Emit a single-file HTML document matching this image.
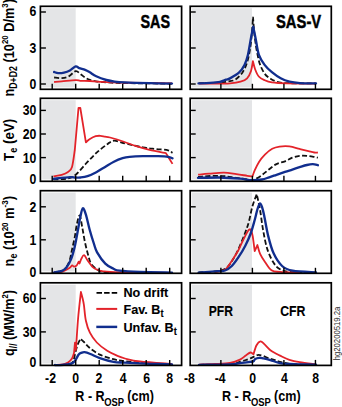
<!DOCTYPE html>
<html><head><meta charset="utf-8"><style>
html,body{margin:0;padding:0;background:#fff;width:342px;height:407px;overflow:hidden}
svg{display:block}
text{font-family:"Liberation Sans",sans-serif;font-weight:bold;fill:#000}
.big{font-size:18px;stroke:#000;stroke-width:0.45px}
.mid{font-size:15px;stroke:#000;stroke-width:0.12px}
.leg{font-size:13.4px;stroke:#000;stroke-width:0.12px}
.tick{font-size:14.6px}
.ttl{font-size:15px}
.yl{font-size:14.5px}
.hg{font-size:9px;font-weight:normal;fill:#2a2a2a}
</style></head><body>
<svg width="342" height="407" viewBox="0 0 342 407">
<rect x="42.30" y="8.20" width="33.40" height="79.20" fill="#e4e5e7"/>
<rect x="192.10" y="8.20" width="59.90" height="79.20" fill="#e4e5e7"/>
<rect x="42.30" y="100.20" width="33.40" height="79.20" fill="#e4e5e7"/>
<rect x="192.10" y="100.20" width="59.90" height="79.20" fill="#e4e5e7"/>
<rect x="42.30" y="192.60" width="33.40" height="78.80" fill="#e4e5e7"/>
<rect x="192.10" y="192.60" width="59.90" height="78.80" fill="#e4e5e7"/>
<rect x="42.30" y="284.70" width="33.40" height="78.80" fill="#e4e5e7"/>
<rect x="192.10" y="284.70" width="59.90" height="78.80" fill="#e4e5e7"/>
<path d="M54.10,77.50 C55.37,77.60 59.27,78.28 61.70,78.10 C64.13,77.92 66.37,77.57 68.70,76.40 C71.03,75.23 73.75,71.50 75.70,71.10 C77.65,70.70 78.83,72.93 80.40,74.00 C81.97,75.07 83.53,76.52 85.10,77.50 C86.67,78.48 87.98,79.25 89.80,79.90 C91.62,80.55 93.23,81.00 96.00,81.40 C98.77,81.80 102.40,82.03 106.40,82.30 C110.40,82.57 112.73,82.82 120.00,83.00 C127.27,83.18 141.33,83.30 150.00,83.40 C158.67,83.50 168.33,83.57 172.00,83.60" fill="none" stroke="#111" stroke-width="1.80" stroke-dasharray="5,2.4"/>
<path d="M54.10,82.00 C55.37,81.90 58.10,81.72 61.70,81.40 C65.30,81.08 72.58,80.20 75.70,80.10 C78.82,80.00 78.05,80.65 80.40,80.80 C82.75,80.95 86.53,80.83 89.80,81.00 C93.07,81.17 94.97,81.53 100.00,81.80 C105.03,82.07 108.00,82.33 120.00,82.60 C132.00,82.87 163.33,83.27 172.00,83.40" fill="none" stroke="#e3232a" stroke-width="1.80" stroke-linejoin="round"/>
<path d="M54.10,72.00 C54.78,72.18 56.55,73.00 58.20,73.10 C59.85,73.20 62.05,73.03 64.00,72.60 C65.95,72.17 67.95,71.53 69.90,70.50 C71.85,69.47 74.15,66.78 75.70,66.40 C77.25,66.02 77.63,67.62 79.20,68.20 C80.77,68.78 83.33,69.22 85.10,69.90 C86.87,70.58 87.95,71.23 89.80,72.30 C91.65,73.37 93.43,75.02 96.20,76.30 C98.97,77.58 103.33,79.12 106.40,80.00 C109.47,80.88 111.52,81.20 114.60,81.60 C117.68,82.00 119.00,82.13 124.90,82.40 C130.80,82.67 142.15,83.00 150.00,83.20 C157.85,83.40 168.33,83.53 172.00,83.60" fill="none" stroke="#112e8e" stroke-width="2.35" stroke-linejoin="round" stroke-linecap="round"/>
<path d="M199.00,83.20 C202.50,83.10 215.17,82.88 220.00,82.60 C224.83,82.32 225.45,82.00 228.00,81.50 C230.55,81.00 232.88,81.12 235.30,79.60 C237.72,78.08 240.53,75.25 242.50,72.40 C244.47,69.55 245.82,66.57 247.10,62.50 C248.38,58.43 249.38,53.08 250.20,48.00 C251.02,42.92 251.53,37.20 252.00,32.00 C252.47,26.80 252.83,19.33 253.00,16.80 C253.20,19.33 253.70,27.13 254.20,32.00 C254.70,36.87 255.37,41.87 256.00,46.00 C256.63,50.13 257.30,53.65 258.00,56.80 C258.70,59.95 259.10,62.10 260.20,64.90 C261.30,67.70 262.88,71.30 264.60,73.60 C266.32,75.90 268.07,77.23 270.50,78.70 C272.93,80.17 275.95,81.65 279.20,82.40 C282.45,83.15 283.87,83.03 290.00,83.20 C296.13,83.37 311.67,83.37 316.00,83.40" fill="none" stroke="#111" stroke-width="1.80" stroke-dasharray="5,2.4"/>
<path d="M199.00,83.60 C202.50,83.60 214.83,83.63 220.00,83.60 C225.17,83.57 226.58,83.73 230.00,83.40 C233.42,83.07 237.65,82.45 240.50,81.60 C243.35,80.75 245.35,80.07 247.10,78.30 C248.85,76.53 250.03,73.85 251.00,71.00 C251.97,68.15 252.58,62.83 252.90,61.20 C253.27,62.53 254.12,66.65 255.10,69.20 C256.08,71.75 257.22,74.67 258.80,76.50 C260.38,78.33 262.42,79.22 264.60,80.20 C266.78,81.18 268.25,81.87 271.90,82.40 C275.55,82.93 279.15,83.20 286.50,83.40 C293.85,83.60 311.08,83.57 316.00,83.60" fill="none" stroke="#e3232a" stroke-width="1.80" stroke-linejoin="round"/>
<path d="M198.50,83.40 C200.42,83.32 206.42,83.17 210.00,82.90 C213.58,82.63 217.33,82.33 220.00,81.80 C222.67,81.27 224.33,80.27 226.00,79.70 C227.67,79.13 227.80,79.62 230.00,78.40 C232.20,77.18 236.78,74.63 239.20,72.40 C241.62,70.17 243.05,67.90 244.50,65.00 C245.95,62.10 246.83,59.43 247.90,55.00 C248.97,50.57 250.02,43.10 250.90,38.40 C251.78,33.70 252.82,28.73 253.20,26.80 C253.60,28.73 254.67,33.77 255.60,38.40 C256.53,43.03 257.30,50.18 258.80,54.60 C260.30,59.02 262.42,61.97 264.60,64.90 C266.78,67.83 269.22,69.97 271.90,72.20 C274.58,74.43 277.77,76.72 280.70,78.30 C283.63,79.88 286.28,80.90 289.50,81.70 C292.72,82.50 295.58,82.82 300.00,83.10 C304.42,83.38 313.33,83.35 316.00,83.40" fill="none" stroke="#112e8e" stroke-width="2.35" stroke-linejoin="round" stroke-linecap="round"/>
<path d="M53.40,179.40 C55.83,179.23 64.18,179.27 68.00,178.40 C71.82,177.53 73.17,176.82 76.30,174.20 C79.43,171.58 83.32,166.37 86.80,162.70 C90.28,159.03 93.72,155.33 97.20,152.20 C100.68,149.07 104.90,145.82 107.70,143.90 C110.50,141.98 111.42,140.85 114.00,140.70 C116.58,140.55 118.38,141.88 123.20,143.00 C128.02,144.12 137.43,146.40 142.90,147.40 C148.37,148.40 151.80,148.52 156.00,149.00 C160.20,149.48 165.35,149.65 168.10,150.30 C170.85,150.95 171.77,152.47 172.50,152.90" fill="none" stroke="#111" stroke-width="1.80" stroke-dasharray="5,2.4"/>
<path d="M53.40,176.30 C54.78,176.05 59.27,175.52 61.70,174.80 C64.13,174.08 66.28,173.30 68.00,172.00 C69.72,170.70 70.87,170.67 72.00,167.00 C73.13,163.33 74.33,152.83 74.80,150.00 C75.42,143.00 77.88,115.00 78.50,108.00 C78.80,108.00 80.00,108.00 80.30,108.00 C81.23,113.72 84.97,136.58 85.90,142.30 C86.50,141.80 87.87,140.32 89.50,139.30 C91.13,138.28 93.85,136.78 95.70,136.20 C97.55,135.62 99.05,135.73 100.60,135.80 C102.15,135.87 103.43,136.32 105.00,136.60 C106.57,136.88 106.97,136.68 110.00,137.50 C113.03,138.32 118.82,140.05 123.20,141.50 C127.58,142.95 131.92,144.80 136.30,146.20 C140.68,147.60 144.57,148.75 149.50,149.90 C154.43,151.05 163.17,152.57 165.90,153.10 C167.00,154.90 171.40,162.10 172.50,163.90" fill="none" stroke="#e3232a" stroke-width="1.80" stroke-linejoin="round"/>
<path d="M53.40,178.80 C56.17,178.53 66.35,177.42 70.00,177.20 C73.65,176.98 73.55,177.45 75.30,177.50 C77.05,177.55 78.47,177.72 80.50,177.50 C82.53,177.28 84.87,177.08 87.50,176.20 C90.13,175.32 93.37,173.75 96.30,172.20 C99.23,170.65 102.17,168.65 105.10,166.90 C108.03,165.15 110.98,163.15 113.90,161.70 C116.82,160.25 119.98,159.00 122.60,158.20 C125.22,157.40 126.22,157.23 129.60,156.90 C132.98,156.57 138.13,156.32 142.90,156.20 C147.67,156.08 154.00,156.10 158.20,156.20 C162.40,156.30 165.72,156.43 168.10,156.80 C170.48,157.17 171.77,158.13 172.50,158.40" fill="none" stroke="#112e8e" stroke-width="2.35" stroke-linejoin="round" stroke-linecap="round"/>
<path d="M198.00,176.80 C201.60,176.63 213.20,175.62 219.60,175.80 C226.00,175.98 231.13,177.20 236.40,177.90 C241.67,178.60 248.17,179.73 251.20,180.00 C254.23,180.27 252.82,180.32 254.60,179.50 C256.38,178.68 259.47,176.82 261.90,175.10 C264.33,173.38 266.77,171.03 269.20,169.20 C271.63,167.37 273.87,165.42 276.50,164.10 C279.13,162.78 282.37,162.37 285.00,161.30 C287.63,160.23 289.87,158.60 292.30,157.70 C294.73,156.80 297.17,156.20 299.60,155.90 C302.03,155.60 304.47,155.73 306.90,155.90 C309.33,156.07 312.37,156.60 314.20,156.90 C316.03,157.20 317.28,157.57 317.90,157.70" fill="none" stroke="#111" stroke-width="1.80" stroke-dasharray="5,2.4"/>
<path d="M198.10,174.70 C199.92,174.53 204.72,174.05 209.00,173.70 C213.28,173.35 219.23,172.53 223.80,172.60 C228.37,172.67 232.48,173.57 236.40,174.10 C240.32,174.63 244.63,175.40 247.30,175.80 C249.97,176.20 251.55,176.38 252.40,176.50 C252.77,175.53 253.50,173.13 254.60,170.70 C255.70,168.27 257.28,164.58 259.00,161.90 C260.72,159.22 262.70,156.78 264.90,154.60 C267.10,152.42 269.77,150.13 272.20,148.80 C274.63,147.47 276.63,147.00 279.50,146.60 C282.37,146.20 286.05,146.02 289.40,146.40 C292.75,146.78 296.43,148.12 299.60,148.90 C302.77,149.68 305.97,150.50 308.40,151.10 C310.83,151.70 312.62,152.27 314.20,152.50 C315.78,152.73 317.28,152.50 317.90,152.50" fill="none" stroke="#e3232a" stroke-width="1.80" stroke-linejoin="round"/>
<path d="M198.00,177.90 C201.60,177.83 212.60,177.37 219.60,177.50 C226.60,177.63 234.65,178.25 240.00,178.70 C245.35,179.15 248.05,180.07 251.70,180.20 C255.35,180.33 258.98,179.98 261.90,179.50 C264.82,179.02 266.77,178.08 269.20,177.30 C271.63,176.52 273.87,175.70 276.50,174.80 C279.13,173.90 282.37,172.77 285.00,171.90 C287.63,171.03 289.87,170.38 292.30,169.60 C294.73,168.82 297.17,167.97 299.60,167.20 C302.03,166.43 304.70,165.50 306.90,165.00 C309.10,164.50 310.97,164.17 312.80,164.20 C314.63,164.23 317.05,165.03 317.90,165.20" fill="none" stroke="#112e8e" stroke-width="2.35" stroke-linejoin="round" stroke-linecap="round"/>
<path d="M54.10,272.40 C55.42,272.17 60.10,271.65 62.00,271.00 C63.90,270.35 64.25,270.20 65.50,268.50 C66.75,266.80 68.42,263.93 69.50,260.80 C70.58,257.67 71.12,253.70 72.00,249.70 C72.88,245.70 73.98,241.08 74.80,236.80 C75.62,232.52 76.08,227.55 76.90,224.00 C77.72,220.45 78.80,214.90 79.70,215.50 C80.60,216.10 81.42,223.12 82.30,227.60 C83.18,232.08 83.93,237.48 85.00,242.40 C86.07,247.32 87.62,253.42 88.70,257.10 C89.78,260.78 90.10,262.43 91.50,264.50 C92.90,266.57 95.48,268.33 97.10,269.50 C98.72,270.67 99.05,271.02 101.20,271.50 C103.35,271.98 108.53,272.25 110.00,272.40" fill="none" stroke="#111" stroke-width="1.80" stroke-dasharray="5,2.4"/>
<path d="M54.10,272.40 C55.42,272.30 59.45,272.52 62.00,271.80 C64.55,271.08 67.72,269.17 69.40,268.10 C71.08,267.03 71.33,265.63 72.10,265.40 C72.87,265.17 73.23,266.70 74.00,266.70 C74.77,266.70 75.93,266.23 76.70,265.40 C77.47,264.57 78.13,262.02 78.60,261.70 C79.07,261.38 79.05,263.97 79.50,263.50 C79.95,263.03 80.53,260.28 81.30,258.90 C82.07,257.52 83.02,254.88 84.10,255.20 C85.18,255.52 86.48,258.95 87.80,260.80 C89.12,262.65 90.80,264.98 92.00,266.30 C93.20,267.62 93.13,267.87 95.00,268.70 C96.87,269.53 99.10,270.68 103.20,271.30 C107.30,271.92 108.13,272.15 119.60,272.40 C131.07,272.65 163.27,272.73 172.00,272.80" fill="none" stroke="#e3232a" stroke-width="1.80" stroke-linejoin="round"/>
<path d="M54.10,272.40 C55.42,272.15 59.92,271.77 62.00,270.90 C64.08,270.03 65.07,269.20 66.60,267.20 C68.13,265.20 69.82,262.43 71.20,258.90 C72.58,255.37 73.82,250.60 74.90,246.00 C75.98,241.40 76.78,236.20 77.70,231.30 C78.62,226.40 79.55,220.43 80.40,216.60 C81.25,212.77 81.88,208.62 82.80,208.30 C83.72,207.98 84.77,211.17 85.90,214.70 C87.03,218.23 88.25,224.62 89.60,229.50 C90.95,234.38 92.75,240.20 94.00,244.00 C95.25,247.80 95.22,249.03 97.10,252.30 C98.98,255.57 102.58,260.87 105.30,263.60 C108.02,266.33 111.02,267.52 113.40,268.70 C115.78,269.88 115.17,270.15 119.60,270.70 C124.03,271.25 131.27,271.68 140.00,272.00 C148.73,272.32 166.67,272.50 172.00,272.60" fill="none" stroke="#112e8e" stroke-width="2.35" stroke-linejoin="round" stroke-linecap="round"/>
<path d="M198.60,272.40 C201.33,272.25 210.60,272.07 215.00,271.50 C219.40,270.93 222.33,270.50 225.00,269.00 C227.67,267.50 228.87,265.58 231.00,262.50 C233.13,259.42 235.53,255.22 237.80,250.50 C240.07,245.78 242.77,238.95 244.60,234.20 C246.43,229.45 247.52,226.57 248.80,222.00 C250.08,217.43 250.98,211.45 252.30,206.80 C253.62,202.15 255.97,196.22 256.70,194.10 C257.23,196.57 258.83,202.90 259.90,208.90 C260.97,214.90 261.87,223.40 263.10,230.10 C264.33,236.80 265.55,243.65 267.30,249.10 C269.05,254.55 271.48,259.45 273.60,262.80 C275.72,266.15 277.27,267.70 280.00,269.20 C282.73,270.70 284.00,271.23 290.00,271.80 C296.00,272.37 311.67,272.47 316.00,272.60" fill="none" stroke="#111" stroke-width="1.80" stroke-dasharray="5,2.4"/>
<path d="M215.00,272.00 C215.83,271.88 218.17,271.83 220.00,271.30 C221.83,270.77 223.92,270.72 226.00,268.80 C228.08,266.88 230.53,262.72 232.50,259.80 C234.47,256.88 236.38,253.83 237.80,251.30 C239.22,248.77 239.80,247.10 241.00,244.60 C242.20,242.10 243.78,238.63 245.00,236.30 C246.22,233.97 247.47,231.78 248.30,230.60 C249.13,229.42 249.72,229.43 250.00,229.20 C250.20,229.42 251.00,230.28 251.20,230.50 C251.45,231.45 252.12,232.77 252.70,236.20 C253.28,239.63 254.37,248.62 254.70,251.10 C255.15,250.08 256.95,246.02 257.40,245.00 C257.85,246.47 258.83,250.98 260.10,253.80 C261.37,256.62 263.10,259.17 265.00,261.90 C266.90,264.63 269.00,268.53 271.50,270.20 C274.00,271.87 275.25,271.52 280.00,271.90 C284.75,272.28 296.67,272.40 300.00,272.50" fill="none" stroke="#e3232a" stroke-width="1.80" stroke-linejoin="round"/>
<path d="M198.60,272.60 C201.90,272.37 214.00,271.55 218.40,271.20 C222.80,270.85 222.77,271.37 225.00,270.50 C227.23,269.63 229.55,268.22 231.80,266.00 C234.05,263.78 236.25,260.58 238.50,257.20 C240.75,253.82 243.27,249.65 245.30,245.70 C247.33,241.75 249.13,237.78 250.70,233.50 C252.27,229.22 253.57,224.08 254.70,220.00 C255.83,215.92 256.63,211.73 257.50,209.00 C258.37,206.27 259.15,203.93 259.90,203.60 C260.65,203.27 261.30,205.05 262.00,207.00 C262.70,208.95 263.05,210.40 264.10,215.30 C265.15,220.20 266.72,230.07 268.30,236.40 C269.88,242.73 271.30,248.37 273.60,253.30 C275.90,258.23 278.92,263.10 282.10,266.00 C285.28,268.90 287.05,269.63 292.70,270.70 C298.35,271.77 312.12,272.12 316.00,272.40" fill="none" stroke="#112e8e" stroke-width="2.35" stroke-linejoin="round" stroke-linecap="round"/>
<path d="M55.00,364.90 C57.50,364.83 66.92,365.32 70.00,364.50 C73.08,363.68 72.63,361.85 73.50,360.00 C74.37,358.15 74.53,355.90 75.20,353.40 C75.87,350.90 76.62,347.43 77.50,345.00 C78.38,342.57 80.00,339.83 80.50,338.80 C81.08,339.33 82.55,340.55 84.00,342.00 C85.45,343.45 86.57,345.40 89.20,347.50 C91.83,349.60 95.75,352.65 99.80,354.60 C103.85,356.55 109.30,358.08 113.50,359.20 C117.70,360.32 118.92,360.62 125.00,361.30 C131.08,361.98 142.17,362.80 150.00,363.30 C157.83,363.80 168.33,364.13 172.00,364.30" fill="none" stroke="#111" stroke-width="1.80" stroke-dasharray="5,2.4"/>
<path d="M55.00,364.90 C56.33,364.82 60.83,364.80 63.00,364.40 C65.17,364.00 66.50,363.47 68.00,362.50 C69.50,361.53 71.00,360.18 72.00,358.60 C73.00,357.02 73.67,353.93 74.00,353.00 C74.17,351.28 74.83,344.42 75.00,342.70 C75.15,343.92 75.75,348.78 75.90,350.00 C76.07,347.45 76.73,337.25 76.90,334.70 C77.15,331.42 77.73,322.12 78.40,315.00 C79.07,307.88 80.48,295.83 80.90,292.00 C81.17,293.00 82.00,295.85 82.50,298.00 C83.00,300.15 83.33,301.10 83.90,304.90 C84.47,308.70 84.90,316.17 85.90,320.80 C86.90,325.43 88.08,329.08 89.90,332.70 C91.72,336.32 93.92,339.48 96.80,342.50 C99.68,345.52 103.72,348.55 107.20,350.80 C110.68,353.05 114.73,354.72 117.70,356.00 C120.67,357.28 121.28,357.58 125.00,358.50 C128.72,359.42 132.17,360.58 140.00,361.50 C147.83,362.42 166.67,363.58 172.00,364.00" fill="none" stroke="#e3232a" stroke-width="1.80" stroke-linejoin="round"/>
<path d="M55.00,365.00 C55.83,365.02 57.22,365.38 60.00,365.10 C62.78,364.82 69.17,364.08 71.70,363.30 C74.23,362.52 74.03,361.85 75.20,360.40 C76.37,358.95 77.65,355.87 78.70,354.60 C79.75,353.33 80.52,353.20 81.50,352.80 C82.48,352.40 83.12,352.00 84.60,352.20 C86.08,352.40 87.87,353.02 90.40,354.00 C92.93,354.98 95.95,356.78 99.80,358.10 C103.65,359.42 109.30,361.13 113.50,361.90 C117.70,362.67 118.92,362.38 125.00,362.70 C131.08,363.02 142.17,363.52 150.00,363.80 C157.83,364.08 168.33,364.30 172.00,364.40" fill="none" stroke="#112e8e" stroke-width="2.35" stroke-linejoin="round" stroke-linecap="round"/>
<path d="M199.00,364.80 C204.17,364.72 223.17,364.78 230.00,364.30 C236.83,363.82 237.17,362.68 240.00,361.90 C242.83,361.12 245.05,360.28 247.00,359.60 C248.95,358.92 250.33,358.38 251.70,357.80 C253.07,357.22 254.03,356.58 255.20,356.10 C256.37,355.62 257.33,354.90 258.70,354.90 C260.07,354.90 261.65,355.52 263.40,356.10 C265.15,356.68 267.25,357.73 269.20,358.40 C271.15,359.07 273.30,359.52 275.10,360.10 C276.90,360.68 277.52,361.28 280.00,361.90 C282.48,362.52 286.67,363.37 290.00,363.80 C293.33,364.23 295.67,364.33 300.00,364.50 C304.33,364.67 313.33,364.75 316.00,364.80" fill="none" stroke="#111" stroke-width="1.80" stroke-dasharray="5,2.4"/>
<path d="M199.00,364.60 C201.67,364.50 209.83,364.28 215.00,364.00 C220.17,363.72 225.83,363.63 230.00,362.90 C234.17,362.17 237.37,360.83 240.00,359.60 C242.63,358.37 244.05,356.68 245.80,355.50 C247.55,354.32 249.22,352.70 250.50,352.50 C251.78,352.30 253.00,354.00 253.50,354.30 C253.98,352.83 255.23,347.65 256.40,345.50 C257.57,343.35 259.13,341.58 260.50,341.40 C261.87,341.22 262.95,342.93 264.60,344.40 C266.25,345.87 268.45,348.65 270.40,350.20 C272.35,351.75 274.70,352.80 276.30,353.70 C277.90,354.60 277.82,354.58 280.00,355.60 C282.18,356.62 286.13,358.70 289.40,359.80 C292.67,360.90 295.17,361.45 299.60,362.20 C304.03,362.95 313.27,363.95 316.00,364.30" fill="none" stroke="#e3232a" stroke-width="1.80" stroke-linejoin="round"/>
<path d="M199.00,364.80 C204.17,364.72 223.17,364.58 230.00,364.30 C236.83,364.02 236.58,363.50 240.00,363.10 C243.42,362.70 248.25,362.20 250.50,361.90 C252.75,361.60 252.72,361.78 253.50,361.30 C254.28,360.82 254.23,359.58 255.20,359.00 C256.17,358.42 257.93,357.90 259.30,357.80 C260.67,357.70 261.55,358.02 263.40,358.40 C265.25,358.78 267.63,359.32 270.40,360.10 C273.17,360.88 276.73,362.45 280.00,363.10 C283.27,363.75 286.67,363.78 290.00,364.00 C293.33,364.22 295.67,364.30 300.00,364.40 C304.33,364.50 313.33,364.57 316.00,364.60" fill="none" stroke="#112e8e" stroke-width="2.35" stroke-linejoin="round" stroke-linecap="round"/>
<rect x="40.40" y="6.30" width="141.20" height="83.00" fill="none" stroke="#000" stroke-width="1.70"/>
<line x1="40.40" y1="12.00" x2="45.90" y2="12.00" stroke="#000" stroke-width="1.4"/>
<line x1="40.40" y1="48.00" x2="45.90" y2="48.00" stroke="#000" stroke-width="1.4"/>
<line x1="40.40" y1="84.00" x2="45.90" y2="84.00" stroke="#000" stroke-width="1.4"/>
<line x1="52.20" y1="89.30" x2="52.20" y2="83.80" stroke="#000" stroke-width="1.4"/>
<line x1="75.70" y1="89.30" x2="75.70" y2="83.80" stroke="#000" stroke-width="1.4"/>
<line x1="99.20" y1="89.30" x2="99.20" y2="83.80" stroke="#000" stroke-width="1.4"/>
<line x1="122.70" y1="89.30" x2="122.70" y2="83.80" stroke="#000" stroke-width="1.4"/>
<line x1="146.20" y1="89.30" x2="146.20" y2="83.80" stroke="#000" stroke-width="1.4"/>
<line x1="169.70" y1="89.30" x2="169.70" y2="83.80" stroke="#000" stroke-width="1.4"/>
<rect x="190.20" y="6.30" width="141.10" height="83.00" fill="none" stroke="#000" stroke-width="1.70"/>
<line x1="190.20" y1="12.00" x2="195.70" y2="12.00" stroke="#000" stroke-width="1.4"/>
<line x1="190.20" y1="48.00" x2="195.70" y2="48.00" stroke="#000" stroke-width="1.4"/>
<line x1="190.20" y1="84.00" x2="195.70" y2="84.00" stroke="#000" stroke-width="1.4"/>
<line x1="220.88" y1="89.30" x2="220.88" y2="83.80" stroke="#000" stroke-width="1.4"/>
<line x1="252.40" y1="89.30" x2="252.40" y2="83.80" stroke="#000" stroke-width="1.4"/>
<line x1="283.92" y1="89.30" x2="283.92" y2="83.80" stroke="#000" stroke-width="1.4"/>
<line x1="315.44" y1="89.30" x2="315.44" y2="83.80" stroke="#000" stroke-width="1.4"/>
<rect x="40.40" y="98.30" width="141.20" height="83.00" fill="none" stroke="#000" stroke-width="1.70"/>
<line x1="40.40" y1="110.40" x2="45.90" y2="110.40" stroke="#000" stroke-width="1.4"/>
<line x1="40.40" y1="134.00" x2="45.90" y2="134.00" stroke="#000" stroke-width="1.4"/>
<line x1="40.40" y1="157.60" x2="45.90" y2="157.60" stroke="#000" stroke-width="1.4"/>
<line x1="52.20" y1="181.30" x2="52.20" y2="175.80" stroke="#000" stroke-width="1.4"/>
<line x1="75.70" y1="181.30" x2="75.70" y2="175.80" stroke="#000" stroke-width="1.4"/>
<line x1="99.20" y1="181.30" x2="99.20" y2="175.80" stroke="#000" stroke-width="1.4"/>
<line x1="122.70" y1="181.30" x2="122.70" y2="175.80" stroke="#000" stroke-width="1.4"/>
<line x1="146.20" y1="181.30" x2="146.20" y2="175.80" stroke="#000" stroke-width="1.4"/>
<line x1="169.70" y1="181.30" x2="169.70" y2="175.80" stroke="#000" stroke-width="1.4"/>
<rect x="190.20" y="98.30" width="141.10" height="83.00" fill="none" stroke="#000" stroke-width="1.70"/>
<line x1="190.20" y1="110.40" x2="195.70" y2="110.40" stroke="#000" stroke-width="1.4"/>
<line x1="190.20" y1="134.00" x2="195.70" y2="134.00" stroke="#000" stroke-width="1.4"/>
<line x1="190.20" y1="157.60" x2="195.70" y2="157.60" stroke="#000" stroke-width="1.4"/>
<line x1="220.88" y1="181.30" x2="220.88" y2="175.80" stroke="#000" stroke-width="1.4"/>
<line x1="252.40" y1="181.30" x2="252.40" y2="175.80" stroke="#000" stroke-width="1.4"/>
<line x1="283.92" y1="181.30" x2="283.92" y2="175.80" stroke="#000" stroke-width="1.4"/>
<line x1="315.44" y1="181.30" x2="315.44" y2="175.80" stroke="#000" stroke-width="1.4"/>
<rect x="40.40" y="190.70" width="141.20" height="82.60" fill="none" stroke="#000" stroke-width="1.70"/>
<line x1="40.40" y1="206.80" x2="45.90" y2="206.80" stroke="#000" stroke-width="1.4"/>
<line x1="40.40" y1="239.80" x2="45.90" y2="239.80" stroke="#000" stroke-width="1.4"/>
<line x1="52.20" y1="273.30" x2="52.20" y2="267.80" stroke="#000" stroke-width="1.4"/>
<line x1="75.70" y1="273.30" x2="75.70" y2="267.80" stroke="#000" stroke-width="1.4"/>
<line x1="99.20" y1="273.30" x2="99.20" y2="267.80" stroke="#000" stroke-width="1.4"/>
<line x1="122.70" y1="273.30" x2="122.70" y2="267.80" stroke="#000" stroke-width="1.4"/>
<line x1="146.20" y1="273.30" x2="146.20" y2="267.80" stroke="#000" stroke-width="1.4"/>
<line x1="169.70" y1="273.30" x2="169.70" y2="267.80" stroke="#000" stroke-width="1.4"/>
<rect x="190.20" y="190.70" width="141.10" height="82.60" fill="none" stroke="#000" stroke-width="1.70"/>
<line x1="190.20" y1="206.80" x2="195.70" y2="206.80" stroke="#000" stroke-width="1.4"/>
<line x1="190.20" y1="239.80" x2="195.70" y2="239.80" stroke="#000" stroke-width="1.4"/>
<line x1="220.88" y1="273.30" x2="220.88" y2="267.80" stroke="#000" stroke-width="1.4"/>
<line x1="252.40" y1="273.30" x2="252.40" y2="267.80" stroke="#000" stroke-width="1.4"/>
<line x1="283.92" y1="273.30" x2="283.92" y2="267.80" stroke="#000" stroke-width="1.4"/>
<line x1="315.44" y1="273.30" x2="315.44" y2="267.80" stroke="#000" stroke-width="1.4"/>
<rect x="40.40" y="282.80" width="141.20" height="82.60" fill="none" stroke="#000" stroke-width="1.70"/>
<line x1="40.40" y1="298.50" x2="45.90" y2="298.50" stroke="#000" stroke-width="1.4"/>
<line x1="40.40" y1="331.90" x2="45.90" y2="331.90" stroke="#000" stroke-width="1.4"/>
<line x1="52.20" y1="365.40" x2="52.20" y2="359.90" stroke="#000" stroke-width="1.4"/>
<line x1="75.70" y1="365.40" x2="75.70" y2="359.90" stroke="#000" stroke-width="1.4"/>
<line x1="99.20" y1="365.40" x2="99.20" y2="359.90" stroke="#000" stroke-width="1.4"/>
<line x1="122.70" y1="365.40" x2="122.70" y2="359.90" stroke="#000" stroke-width="1.4"/>
<line x1="146.20" y1="365.40" x2="146.20" y2="359.90" stroke="#000" stroke-width="1.4"/>
<line x1="169.70" y1="365.40" x2="169.70" y2="359.90" stroke="#000" stroke-width="1.4"/>
<rect x="190.20" y="282.80" width="141.10" height="82.60" fill="none" stroke="#000" stroke-width="1.70"/>
<line x1="190.20" y1="298.50" x2="195.70" y2="298.50" stroke="#000" stroke-width="1.4"/>
<line x1="190.20" y1="331.90" x2="195.70" y2="331.90" stroke="#000" stroke-width="1.4"/>
<line x1="220.88" y1="365.40" x2="220.88" y2="359.90" stroke="#000" stroke-width="1.4"/>
<line x1="252.40" y1="365.40" x2="252.40" y2="359.90" stroke="#000" stroke-width="1.4"/>
<line x1="283.92" y1="365.40" x2="283.92" y2="359.90" stroke="#000" stroke-width="1.4"/>
<line x1="315.44" y1="365.40" x2="315.44" y2="359.90" stroke="#000" stroke-width="1.4"/>
<line x1="96.5" y1="292.9" x2="117.3" y2="292.9" stroke="#000" stroke-width="1.8" stroke-dasharray="5.5,2.1"/>
<line x1="96.3" y1="308.9" x2="117.2" y2="308.9" stroke="#e3232a" stroke-width="2.0"/>
<line x1="96.3" y1="326.9" x2="117.2" y2="326.9" stroke="#112e8e" stroke-width="2.45"/>

<text x="140.5" y="27.6" class="big" textLength="29.5" lengthAdjust="spacingAndGlyphs">SAS</text>
<text x="276" y="27.6" class="big" textLength="45.2" lengthAdjust="spacingAndGlyphs">SAS-V</text>
<text x="208.8" y="315.7" class="mid" textLength="24.2" lengthAdjust="spacingAndGlyphs">PFR</text>
<text x="280.2" y="315.7" class="mid" textLength="25.3" lengthAdjust="spacingAndGlyphs">CFR</text>
<g class="leg" transform="translate(124,0) scale(0.94,1) translate(-124,0)">
<text x="123.5" y="296.8">No drift</text>
<text x="123.5" y="313.8">Fav. B<tspan dy="3.4" font-size="10">t</tspan></text>
<text x="123.5" y="331.6">Unfav. B<tspan dy="3.4" font-size="10">t</tspan></text>
</g>
<g class="tick">
<text text-anchor="end" transform="translate(36.4,16.40) scale(0.840,1)">6</text>
<text text-anchor="end" transform="translate(36.4,53.20) scale(0.840,1)">3</text>
<text text-anchor="end" transform="translate(36.4,89.40) scale(0.840,1)">0</text>
<text text-anchor="end" transform="translate(36.4,115.00) scale(0.840,1)">30</text>
<text text-anchor="end" transform="translate(36.4,138.80) scale(0.840,1)">20</text>
<text text-anchor="end" transform="translate(36.4,162.60) scale(0.840,1)">10</text>
<text text-anchor="end" transform="translate(36.4,183.60) scale(0.840,1)">0</text>
<text text-anchor="end" transform="translate(36.4,211.90) scale(0.840,1)">2</text>
<text text-anchor="end" transform="translate(36.4,244.70) scale(0.840,1)">1</text>
<text text-anchor="end" transform="translate(36.4,277.40) scale(0.840,1)">0</text>
<text text-anchor="end" transform="translate(36.4,303.40) scale(0.840,1)">60</text>
<text text-anchor="end" transform="translate(36.4,336.90) scale(0.840,1)">30</text>
<text text-anchor="end" transform="translate(36.4,366.70) scale(0.840,1)">0</text>
<text text-anchor="middle" transform="translate(50.50,382.7) scale(0.840,1)">-2</text>
<text text-anchor="middle" transform="translate(75.60,382.7) scale(0.840,1)">0</text>
<text text-anchor="middle" transform="translate(98.90,382.7) scale(0.840,1)">2</text>
<text text-anchor="middle" transform="translate(123.20,382.7) scale(0.840,1)">4</text>
<text text-anchor="middle" transform="translate(146.60,382.7) scale(0.840,1)">6</text>
<text text-anchor="middle" transform="translate(169.70,382.7) scale(0.840,1)">8</text>
<text text-anchor="middle" transform="translate(189.40,382.7) scale(0.840,1)">-8</text>
<text text-anchor="middle" transform="translate(220.20,382.7) scale(0.840,1)">-4</text>
<text text-anchor="middle" transform="translate(252.60,382.7) scale(0.840,1)">0</text>
<text text-anchor="middle" transform="translate(284.30,382.7) scale(0.840,1)">4</text>
<text text-anchor="middle" transform="translate(315.60,382.7) scale(0.840,1)">8</text>
</g>
<text class="ttl" transform="translate(75.3,401) scale(0.84,1)">R - R<tspan dy="5.1" dx="-0.6" font-size="11.2" stroke-width="0.15">OSP</tspan><tspan dy="-5.1" dx="-0.2"> (cm)</tspan></text>
<text class="ttl" transform="translate(222,401) scale(0.84,1)">R - R<tspan dy="5.1" dx="-0.6" font-size="11.2" stroke-width="0.15">OSP</tspan><tspan dy="-5.1" dx="-0.2"> (cm)</tspan></text>
<g class="yl" text-anchor="middle">
<text transform="translate(13.9,47.8) rotate(-90) scale(0.88,1)">n<tspan dy="3.2" font-size="10">D+D2</tspan><tspan dy="-3.2"> (10</tspan><tspan dy="-6" font-size="9">20</tspan><tspan dy="6"> D/m</tspan><tspan dy="-6" font-size="9">3</tspan><tspan dy="6">)</tspan></text>
<text transform="translate(13.9,139.8) rotate(-90) scale(0.92,1)">T<tspan dy="3.2" font-size="10">e</tspan><tspan dy="-3.2"> (eV)</tspan></text>
<text transform="translate(13.9,231.2) rotate(-90) scale(0.89,1)">n<tspan dy="3.2" font-size="10">e</tspan><tspan dy="-3.2"> (10</tspan><tspan dy="-6" font-size="9">20</tspan><tspan dy="6"> m</tspan><tspan dy="-6" font-size="9">-3</tspan><tspan dy="6">)</tspan></text>
<text transform="translate(13.9,323) rotate(-90) scale(0.87,1)">q<tspan dy="3.2" font-size="10">//</tspan><tspan dy="-3.2"> (MW/m</tspan><tspan dy="-6" font-size="9">2</tspan><tspan dy="6">)</tspan></text>
</g>
<text transform="translate(340.1,333.5) rotate(-90) scale(0.86,1)" text-anchor="middle" class="hg">hg20200519.2a</text>

</svg></body></html>
